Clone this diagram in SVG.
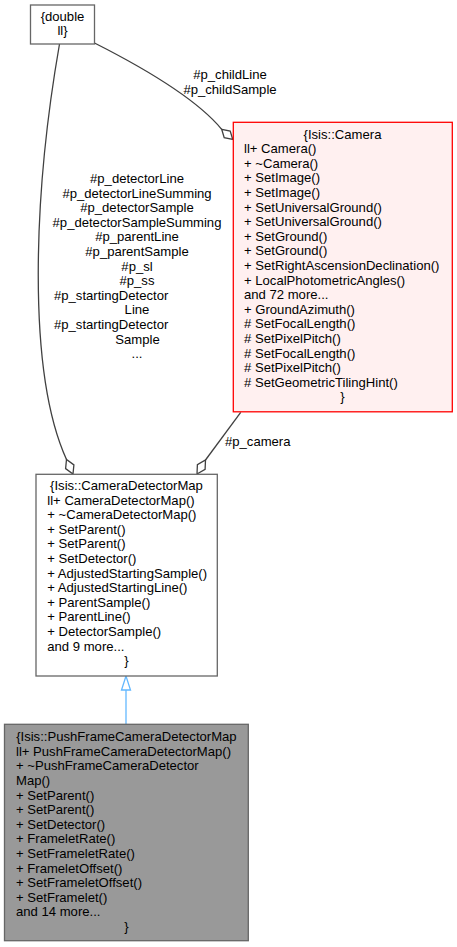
<svg xmlns="http://www.w3.org/2000/svg" width="457" height="947" viewBox="0 0 457 947">
<style>
text{font-family:"Liberation Sans",Arial,Helvetica,sans-serif;font-size:13.1px;fill:#000}
.m{text-anchor:middle}
.box{fill:#fff;stroke:#666;stroke-width:1.3}
.edge{fill:none;stroke:#404040;stroke-width:1.3}
.dia{fill:#fff;stroke:#404040;stroke-width:1.3}
</style>
<rect width="457" height="947" fill="#fff"/>
<g id="connectors">
<path class="edge" d="M59.5,44 C34,190 26,370 66.5,459.5"/>
<polygon class="dia" points="73,474 73.9,464.9 66.5,459.5 65.6,468.6"/>
<path class="edge" d="M94.5,43 C140,66 195,97 221.7,129.3"/>
<polygon class="dia" points="232.7,139.3 230.2,131 221.7,129.3 224.2,137.6"/>
<path class="edge" d="M240.7,412.3 L205.5,460"/>
<polygon class="dia" points="197,474 205.1,469.3 205.5,460 197.4,464.7"/>
<path fill="none" stroke="#63b8ff" stroke-width="1.3" d="M126,690 L126,724"/>
<polygon fill="#fff" stroke="#63b8ff" stroke-width="1.3" points="126,676 121.5,690 130.5,690"/>
<text class="m" x="230" y="79">#p_childLine</text>
<text class="m" x="230" y="93.6">#p_childSample</text>
<text class="m" x="137" y="183">#p_detectorLine</text>
<text class="m" x="137" y="197.6">#p_detectorLineSumming</text>
<text class="m" x="137" y="212.2">#p_detectorSample</text>
<text class="m" x="137" y="226.8">#p_detectorSampleSumming</text>
<text class="m" x="137" y="241.4">#p_parentLine</text>
<text class="m" x="137" y="256">#p_parentSample</text>
<text class="m" x="137" y="270.6">#p_sl</text>
<text class="m" x="137" y="285.2">#p_ss</text>
<text x="54" y="299.8">#p_startingDetector</text>
<text class="m" x="137" y="314.4">Line</text>
<text x="54" y="329">#p_startingDetector</text>
<text class="m" x="137.5" y="343.6">Sample</text>
<text class="m" x="137" y="358.2">...</text>
<text x="225" y="446">#p_camera</text>
</g>
<g id="node-double">
<rect class="box" x="30.5" y="5" width="64" height="39"/>
<text class="m" x="62.5" y="20.5">{double</text>
<text class="m" x="62.5" y="35">ll}</text>
</g>
<g id="node-camera">
<rect x="233.3" y="122.3" width="219" height="289.5" fill="#fff0f0" stroke="#ff0000" stroke-width="1.3"/>
<text class="m" x="342.5" y="138.5">{Isis::Camera</text>
<text x="244" y="153.1">ll+ Camera()</text>
<text x="244" y="167.7">+ ~Camera()</text>
<text x="244" y="182.3">+ SetImage()</text>
<text x="244" y="196.9">+ SetImage()</text>
<text x="244" y="211.5">+ SetUniversalGround()</text>
<text x="244" y="226.1">+ SetUniversalGround()</text>
<text x="244" y="240.7">+ SetGround()</text>
<text x="244" y="255.3">+ SetGround()</text>
<text x="244" y="269.9">+ SetRightAscensionDeclination()</text>
<text x="244" y="284.5">+ LocalPhotometricAngles()</text>
<text x="244" y="299.1">and 72 more...</text>
<text x="244" y="313.7">+ GroundAzimuth()</text>
<text x="244" y="328.3"># SetFocalLength()</text>
<text x="244" y="342.9"># SetPixelPitch()</text>
<text x="244" y="357.5"># SetFocalLength()</text>
<text x="244" y="372.1"># SetPixelPitch()</text>
<text x="244" y="386.7"># SetGeometricTilingHint()</text>
<text class="m" x="342.5" y="401.3">}</text>
</g>
<g id="node-cameradetectormap">
<rect class="box" x="36" y="474.3" width="181.3" height="201.7"/>
<text class="m" x="126.5" y="490">{Isis::CameraDetectorMap</text>
<text x="47.3" y="504.6">ll+ CameraDetectorMap()</text>
<text x="47.3" y="519.2">+ ~CameraDetectorMap()</text>
<text x="47.3" y="533.8">+ SetParent()</text>
<text x="47.3" y="548.4">+ SetParent()</text>
<text x="47.3" y="563">+ SetDetector()</text>
<text x="47.3" y="577.6">+ AdjustedStartingSample()</text>
<text x="47.3" y="592.2">+ AdjustedStartingLine()</text>
<text x="47.3" y="606.8">+ ParentSample()</text>
<text x="47.3" y="621.4">+ ParentLine()</text>
<text x="47.3" y="636">+ DetectorSample()</text>
<text x="47.3" y="650.6">and 9 more...</text>
<text class="m" x="126.5" y="665.2">}</text>
</g>
<g id="node-pushframe">
<rect x="4.5" y="724.3" width="243.8" height="216.4" fill="#999999" stroke="#666" stroke-width="1.3"/>
<text class="m" x="126.4" y="741.2">{Isis::PushFrameCameraDetectorMap</text>
<text x="16" y="755.8">ll+ PushFrameCameraDetectorMap()</text>
<text x="16" y="770.4">+ ~PushFrameCameraDetector</text>
<text x="16" y="785">Map()</text>
<text x="16" y="799.6">+ SetParent()</text>
<text x="16" y="814.2">+ SetParent()</text>
<text x="16" y="828.8">+ SetDetector()</text>
<text x="16" y="843.4">+ FrameletRate()</text>
<text x="16" y="858">+ SetFrameletRate()</text>
<text x="16" y="872.6">+ FrameletOffset()</text>
<text x="16" y="887.2">+ SetFrameletOffset()</text>
<text x="16" y="901.8">+ SetFramelet()</text>
<text x="16" y="916.4">and 14 more...</text>
<text class="m" x="126.4" y="931">}</text>
</g>
</svg>
